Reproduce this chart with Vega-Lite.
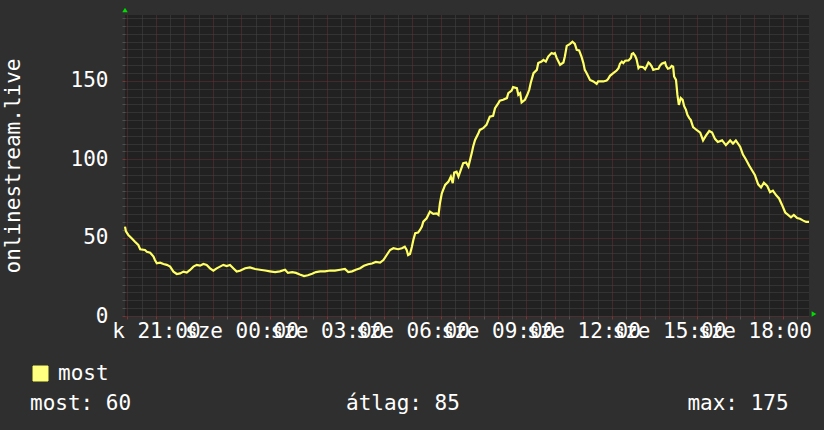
{
  "$schema": "https://vega.github.io/schema/vega-lite/v6.json",
  "width": 684,
  "height": 301,
  "autosize": {"type": "none"},
  "padding": {"left": 125, "top": 15, "right": 15, "bottom": 114},
  "background": "#2f2f2f",
  "config": {
    "view": {"fill": "#212121", "stroke": null},
    "font": "DejaVu Sans Mono"
  },
  "encoding": {
    "x": {
      "field": "t",
      "type": "temporal",
      "scale": {"type": "utc", "domain": [1704830100000, 1704916500000]},
      "axis": {
        "title": null,
        "values": [1704830400000, 1704832200000, 1704834000000, 1704835800000, 1704837600000, 1704839400000, 1704841200000, 1704843000000, 1704844800000, 1704846600000, 1704848400000, 1704850200000, 1704852000000, 1704853800000, 1704855600000, 1704857400000, 1704859200000, 1704861000000, 1704862800000, 1704864600000, 1704866400000, 1704868200000, 1704870000000, 1704871800000, 1704873600000, 1704875400000, 1704877200000, 1704879000000, 1704880800000, 1704882600000, 1704884400000, 1704886200000, 1704888000000, 1704889800000, 1704891600000, 1704893400000, 1704895200000, 1704897000000, 1704898800000, 1704900600000, 1704902400000, 1704904200000, 1704906000000, 1704907800000, 1704909600000, 1704911400000, 1704913200000, 1704915000000],
        "grid": true,
        "gridColor": {"condition": {"test": "utcminutes(datum.value) == 0", "value": "#663333"}, "value": "#474747"},
        "gridDash": [1, 1],
        "gridWidth": 1,
        "domain": false,
        "ticks": true,
        "tickSize": 3,
        "tickColor": {"condition": {"test": "utcminutes(datum.value) == 0", "value": "#7a3535"}, "value": "#505050"},
        "labelExpr": "utcminutes(datum.value) == 0 && utchours(datum.value) % 3 == 0 ? (utcdate(datum.value) == 9 ? 'k ' : 'sze ') + utcFormat(datum.value, '%H:%M') : ''",
        "labelOverlap": false,
        "labelBound": false,
        "labelFlush": false,
        "labelAngle": 0,
        "labelFont": "DejaVu Sans Mono",
        "labelFontSize": 21,
        "labelColor": "#ffffff",
        "labelPadding": 1
      }
    },
    "y": {
      "field": "v",
      "type": "quantitative",
      "scale": {"domain": [0, 192], "nice": false, "zero": true},
      "axis": {
        "title": "onlinestream.live",
        "values": [0, 5, 10, 15, 20, 25, 30, 35, 40, 45, 50, 55, 60, 65, 70, 75, 80, 85, 90, 95, 100, 105, 110, 115, 120, 125, 130, 135, 140, 145, 150, 155, 160, 165, 170, 175, 180, 185, 190],
        "grid": true,
        "gridColor": {"condition": {"test": "datum.value % 50 == 0", "value": "#663333"}, "value": "#474747"},
        "gridDash": [1, 1],
        "gridWidth": 1,
        "domain": false,
        "tickSize": 3,
        "tickColor": {"condition": {"test": "datum.value % 50 == 0", "value": "#7a3535"}, "value": "#505050"},
        "labelExpr": "datum.value % 50 == 0 ? datum.label : ''",
        "labelOverlap": false,
        "labelFont": "DejaVu Sans Mono",
        "labelFontSize": 21,
        "labelColor": "#ffffff",
        "labelPadding": 14,
        "titleFont": "DejaVu Sans Mono",
        "titleFontSize": 21,
        "titleFontWeight": "normal",
        "titleColor": "#ffffff",
        "titleAngle": -90,
        "titleX": -106,
        "titleY": 150.5,
        "titleAlign": "center",
        "titleBaseline": "alphabetic"
      }
    }
  },
  "layer": [
    {
      "data": {
        "values": [
          {"t": "2024-01-09T19:55:00Z", "v": 57},
          {"t": "2024-01-09T19:57:00Z", "v": 54},
          {"t": "2024-01-09T20:02:00Z", "v": 51.7},
          {"t": "2024-01-09T20:09:00Z", "v": 49.6},
          {"t": "2024-01-09T20:16:00Z", "v": 47.4},
          {"t": "2024-01-09T20:23:00Z", "v": 45.3},
          {"t": "2024-01-09T20:27:00Z", "v": 42.6},
          {"t": "2024-01-09T20:37:00Z", "v": 42.1},
          {"t": "2024-01-09T20:41:00Z", "v": 41},
          {"t": "2024-01-09T20:48:00Z", "v": 40.4},
          {"t": "2024-01-09T20:55:00Z", "v": 37.9},
          {"t": "2024-01-09T20:58:00Z", "v": 35.7},
          {"t": "2024-01-09T21:02:00Z", "v": 33.6},
          {"t": "2024-01-09T21:09:00Z", "v": 34},
          {"t": "2024-01-09T21:16:00Z", "v": 33.2},
          {"t": "2024-01-09T21:23:00Z", "v": 32.6},
          {"t": "2024-01-09T21:30:00Z", "v": 31.5},
          {"t": "2024-01-09T21:37:00Z", "v": 28.3},
          {"t": "2024-01-09T21:44:00Z", "v": 26.8},
          {"t": "2024-01-09T21:51:00Z", "v": 27.2},
          {"t": "2024-01-09T21:58:00Z", "v": 28.3},
          {"t": "2024-01-09T22:05:00Z", "v": 27.7},
          {"t": "2024-01-09T22:12:00Z", "v": 29.4},
          {"t": "2024-01-09T22:19:00Z", "v": 31.5},
          {"t": "2024-01-09T22:26:00Z", "v": 32.6},
          {"t": "2024-01-09T22:33:00Z", "v": 32.1},
          {"t": "2024-01-09T22:40:00Z", "v": 33.2},
          {"t": "2024-01-09T22:47:00Z", "v": 32.6},
          {"t": "2024-01-09T22:54:00Z", "v": 30.4},
          {"t": "2024-01-09T23:01:00Z", "v": 28.9},
          {"t": "2024-01-09T23:08:00Z", "v": 30.4},
          {"t": "2024-01-09T23:15:00Z", "v": 31.5},
          {"t": "2024-01-09T23:22:00Z", "v": 32.6},
          {"t": "2024-01-09T23:29:00Z", "v": 31.9},
          {"t": "2024-01-09T23:36:00Z", "v": 32.6},
          {"t": "2024-01-09T23:43:00Z", "v": 30.4},
          {"t": "2024-01-09T23:50:00Z", "v": 28.3},
          {"t": "2024-01-09T23:57:00Z", "v": 28.9},
          {"t": "2024-01-10T00:08:00Z", "v": 30.5},
          {"t": "2024-01-10T00:18:00Z", "v": 31},
          {"t": "2024-01-10T00:29:00Z", "v": 30},
          {"t": "2024-01-10T00:39:00Z", "v": 29.5},
          {"t": "2024-01-10T00:50:00Z", "v": 29},
          {"t": "2024-01-10T01:00:00Z", "v": 28.5},
          {"t": "2024-01-10T01:11:00Z", "v": 28},
          {"t": "2024-01-10T01:21:00Z", "v": 28.5},
          {"t": "2024-01-10T01:32:00Z", "v": 29.5},
          {"t": "2024-01-10T01:38:00Z", "v": 27.5},
          {"t": "2024-01-10T01:47:00Z", "v": 28},
          {"t": "2024-01-10T01:55:00Z", "v": 27.5},
          {"t": "2024-01-10T02:03:00Z", "v": 26.5},
          {"t": "2024-01-10T02:12:00Z", "v": 25.5},
          {"t": "2024-01-10T02:20:00Z", "v": 26},
          {"t": "2024-01-10T02:29:00Z", "v": 27},
          {"t": "2024-01-10T02:37:00Z", "v": 28},
          {"t": "2024-01-10T02:46:00Z", "v": 28.5},
          {"t": "2024-01-10T02:56:00Z", "v": 28.5},
          {"t": "2024-01-10T03:07:00Z", "v": 29},
          {"t": "2024-01-10T03:17:00Z", "v": 29},
          {"t": "2024-01-10T03:28:00Z", "v": 29.5},
          {"t": "2024-01-10T03:38:00Z", "v": 30},
          {"t": "2024-01-10T03:45:00Z", "v": 28},
          {"t": "2024-01-10T03:53:00Z", "v": 28.5},
          {"t": "2024-01-10T04:01:00Z", "v": 29.5},
          {"t": "2024-01-10T04:10:00Z", "v": 30.5},
          {"t": "2024-01-10T04:18:00Z", "v": 32},
          {"t": "2024-01-10T04:27:00Z", "v": 33},
          {"t": "2024-01-10T04:35:00Z", "v": 33.5},
          {"t": "2024-01-10T04:43:00Z", "v": 34.5},
          {"t": "2024-01-10T04:52:00Z", "v": 34},
          {"t": "2024-01-10T04:59:00Z", "v": 35.7},
          {"t": "2024-01-10T05:06:00Z", "v": 38.9},
          {"t": "2024-01-10T05:13:00Z", "v": 42.1},
          {"t": "2024-01-10T05:20:00Z", "v": 43.2},
          {"t": "2024-01-10T05:30:00Z", "v": 42.6},
          {"t": "2024-01-10T05:38:00Z", "v": 43.2},
          {"t": "2024-01-10T05:44:00Z", "v": 44.2},
          {"t": "2024-01-10T05:48:00Z", "v": 42.1},
          {"t": "2024-01-10T05:51:00Z", "v": 38.9},
          {"t": "2024-01-10T05:55:00Z", "v": 39.6},
          {"t": "2024-01-10T05:59:00Z", "v": 44.2},
          {"t": "2024-01-10T06:02:00Z", "v": 48.5},
          {"t": "2024-01-10T06:06:00Z", "v": 52.8},
          {"t": "2024-01-10T06:12:00Z", "v": 53.2},
          {"t": "2024-01-10T06:16:00Z", "v": 54.9},
          {"t": "2024-01-10T06:20:00Z", "v": 57},
          {"t": "2024-01-10T06:23:00Z", "v": 60.2},
          {"t": "2024-01-10T06:30:00Z", "v": 62.3},
          {"t": "2024-01-10T06:37:00Z", "v": 66.6},
          {"t": "2024-01-10T06:44:00Z", "v": 65.1},
          {"t": "2024-01-10T06:51:00Z", "v": 65.5},
          {"t": "2024-01-10T06:55:00Z", "v": 64.5},
          {"t": "2024-01-10T06:58:00Z", "v": 71.9},
          {"t": "2024-01-10T07:02:00Z", "v": 78.3},
          {"t": "2024-01-10T07:09:00Z", "v": 83.6},
          {"t": "2024-01-10T07:16:00Z", "v": 85.7},
          {"t": "2024-01-10T07:21:00Z", "v": 88.9},
          {"t": "2024-01-10T07:25:00Z", "v": 84.7},
          {"t": "2024-01-10T07:28:00Z", "v": 91.5},
          {"t": "2024-01-10T07:33:00Z", "v": 92.1},
          {"t": "2024-01-10T07:37:00Z", "v": 88.9},
          {"t": "2024-01-10T07:42:00Z", "v": 93.2},
          {"t": "2024-01-10T07:47:00Z", "v": 97.5},
          {"t": "2024-01-10T07:53:00Z", "v": 97.9},
          {"t": "2024-01-10T07:58:00Z", "v": 95.3},
          {"t": "2024-01-10T08:05:00Z", "v": 103.9},
          {"t": "2024-01-10T08:08:00Z", "v": 108.1},
          {"t": "2024-01-10T08:12:00Z", "v": 112.3},
          {"t": "2024-01-10T08:19:00Z", "v": 116.6},
          {"t": "2024-01-10T08:22:00Z", "v": 118.7},
          {"t": "2024-01-10T08:29:00Z", "v": 119.8},
          {"t": "2024-01-10T08:36:00Z", "v": 121.9},
          {"t": "2024-01-10T08:43:00Z", "v": 127.2},
          {"t": "2024-01-10T08:50:00Z", "v": 127.7},
          {"t": "2024-01-10T08:54:00Z", "v": 132.6},
          {"t": "2024-01-10T09:01:00Z", "v": 135.8},
          {"t": "2024-01-10T09:04:00Z", "v": 137.4},
          {"t": "2024-01-10T09:11:00Z", "v": 137.9},
          {"t": "2024-01-10T09:19:00Z", "v": 139},
          {"t": "2024-01-10T09:22:00Z", "v": 142.2},
          {"t": "2024-01-10T09:29:00Z", "v": 143.8},
          {"t": "2024-01-10T09:32:00Z", "v": 146},
          {"t": "2024-01-10T09:40:00Z", "v": 145.3},
          {"t": "2024-01-10T09:43:00Z", "v": 141.1},
          {"t": "2024-01-10T09:47:00Z", "v": 142.2},
          {"t": "2024-01-10T09:50:00Z", "v": 136.2},
          {"t": "2024-01-10T09:57:00Z", "v": 137.9},
          {"t": "2024-01-10T10:02:00Z", "v": 141.1},
          {"t": "2024-01-10T10:06:00Z", "v": 144.3},
          {"t": "2024-01-10T10:09:00Z", "v": 148.5},
          {"t": "2024-01-10T10:15:00Z", "v": 154.9},
          {"t": "2024-01-10T10:22:00Z", "v": 157},
          {"t": "2024-01-10T10:25:00Z", "v": 161.3},
          {"t": "2024-01-10T10:32:00Z", "v": 162.3},
          {"t": "2024-01-10T10:36:00Z", "v": 163.4},
          {"t": "2024-01-10T10:41:00Z", "v": 162.3},
          {"t": "2024-01-10T10:46:00Z", "v": 165.5},
          {"t": "2024-01-10T10:53:00Z", "v": 167.7},
          {"t": "2024-01-10T10:57:00Z", "v": 167.2},
          {"t": "2024-01-10T11:00:00Z", "v": 167.7},
          {"t": "2024-01-10T11:04:00Z", "v": 164.5},
          {"t": "2024-01-10T11:11:00Z", "v": 160.2},
          {"t": "2024-01-10T11:18:00Z", "v": 161.7},
          {"t": "2024-01-10T11:21:00Z", "v": 165.5},
          {"t": "2024-01-10T11:25:00Z", "v": 172.3},
          {"t": "2024-01-10T11:32:00Z", "v": 173.6},
          {"t": "2024-01-10T11:37:00Z", "v": 175},
          {"t": "2024-01-10T11:42:00Z", "v": 173.6},
          {"t": "2024-01-10T11:46:00Z", "v": 169.8},
          {"t": "2024-01-10T11:51:00Z", "v": 169.4},
          {"t": "2024-01-10T11:56:00Z", "v": 165.5},
          {"t": "2024-01-10T12:00:00Z", "v": 161.3},
          {"t": "2024-01-10T12:03:00Z", "v": 157},
          {"t": "2024-01-10T12:07:00Z", "v": 154.9},
          {"t": "2024-01-10T12:14:00Z", "v": 150.6},
          {"t": "2024-01-10T12:21:00Z", "v": 149.6},
          {"t": "2024-01-10T12:28:00Z", "v": 148.1},
          {"t": "2024-01-10T12:31:00Z", "v": 149.6},
          {"t": "2024-01-10T12:42:00Z", "v": 149.6},
          {"t": "2024-01-10T12:49:00Z", "v": 150.2},
          {"t": "2024-01-10T12:52:00Z", "v": 151.1},
          {"t": "2024-01-10T12:56:00Z", "v": 153.2},
          {"t": "2024-01-10T13:03:00Z", "v": 154.9},
          {"t": "2024-01-10T13:10:00Z", "v": 156.6},
          {"t": "2024-01-10T13:14:00Z", "v": 158.1},
          {"t": "2024-01-10T13:17:00Z", "v": 160.9},
          {"t": "2024-01-10T13:21:00Z", "v": 162.3},
          {"t": "2024-01-10T13:24:00Z", "v": 161.3},
          {"t": "2024-01-10T13:28:00Z", "v": 162.8},
          {"t": "2024-01-10T13:35:00Z", "v": 163},
          {"t": "2024-01-10T13:40:00Z", "v": 164.6},
          {"t": "2024-01-10T13:42:00Z", "v": 167.2},
          {"t": "2024-01-10T13:45:00Z", "v": 167.7},
          {"t": "2024-01-10T13:49:00Z", "v": 166},
          {"t": "2024-01-10T13:52:00Z", "v": 163.8},
          {"t": "2024-01-10T13:56:00Z", "v": 158.1},
          {"t": "2024-01-10T13:59:00Z", "v": 159.1},
          {"t": "2024-01-10T14:06:00Z", "v": 158.7},
          {"t": "2024-01-10T14:10:00Z", "v": 157.4},
          {"t": "2024-01-10T14:13:00Z", "v": 159.1},
          {"t": "2024-01-10T14:17:00Z", "v": 161.7},
          {"t": "2024-01-10T14:20:00Z", "v": 160.9},
          {"t": "2024-01-10T14:24:00Z", "v": 159.1},
          {"t": "2024-01-10T14:27:00Z", "v": 157},
          {"t": "2024-01-10T14:31:00Z", "v": 157.4},
          {"t": "2024-01-10T14:38:00Z", "v": 157.7},
          {"t": "2024-01-10T14:41:00Z", "v": 159.6},
          {"t": "2024-01-10T14:45:00Z", "v": 160.9},
          {"t": "2024-01-10T14:48:00Z", "v": 161.3},
          {"t": "2024-01-10T14:52:00Z", "v": 161.7},
          {"t": "2024-01-10T14:54:00Z", "v": 159.6},
          {"t": "2024-01-10T14:58:00Z", "v": 157.7},
          {"t": "2024-01-10T15:02:00Z", "v": 158.1},
          {"t": "2024-01-10T15:06:00Z", "v": 159.6},
          {"t": "2024-01-10T15:09:00Z", "v": 159.1},
          {"t": "2024-01-10T15:11:00Z", "v": 152.8},
          {"t": "2024-01-10T15:15:00Z", "v": 150.6},
          {"t": "2024-01-10T15:18:00Z", "v": 141},
          {"t": "2024-01-10T15:21:00Z", "v": 134.7},
          {"t": "2024-01-10T15:25:00Z", "v": 139},
          {"t": "2024-01-10T15:29:00Z", "v": 137.9},
          {"t": "2024-01-10T15:32:00Z", "v": 134},
          {"t": "2024-01-10T15:36:00Z", "v": 131.5},
          {"t": "2024-01-10T15:39:00Z", "v": 128.3},
          {"t": "2024-01-10T15:43:00Z", "v": 126.2},
          {"t": "2024-01-10T15:46:00Z", "v": 125.1},
          {"t": "2024-01-10T15:51:00Z", "v": 120.5},
          {"t": "2024-01-10T15:59:00Z", "v": 118.5},
          {"t": "2024-01-10T16:06:00Z", "v": 117},
          {"t": "2024-01-10T16:12:00Z", "v": 112},
          {"t": "2024-01-10T16:18:00Z", "v": 115},
          {"t": "2024-01-10T16:25:00Z", "v": 118},
          {"t": "2024-01-10T16:31:00Z", "v": 117},
          {"t": "2024-01-10T16:37:00Z", "v": 113},
          {"t": "2024-01-10T16:43:00Z", "v": 111},
          {"t": "2024-01-10T16:52:00Z", "v": 112},
          {"t": "2024-01-10T17:00:00Z", "v": 109},
          {"t": "2024-01-10T17:09:00Z", "v": 112},
          {"t": "2024-01-10T17:15:00Z", "v": 110},
          {"t": "2024-01-10T17:21:00Z", "v": 112},
          {"t": "2024-01-10T17:30:00Z", "v": 108},
          {"t": "2024-01-10T17:36:00Z", "v": 103},
          {"t": "2024-01-10T17:42:00Z", "v": 100},
          {"t": "2024-01-10T17:49:00Z", "v": 96},
          {"t": "2024-01-10T17:55:00Z", "v": 93},
          {"t": "2024-01-10T18:01:00Z", "v": 90},
          {"t": "2024-01-10T18:08:00Z", "v": 84},
          {"t": "2024-01-10T18:14:00Z", "v": 82},
          {"t": "2024-01-10T18:20:00Z", "v": 85},
          {"t": "2024-01-10T18:27:00Z", "v": 83},
          {"t": "2024-01-10T18:33:00Z", "v": 79},
          {"t": "2024-01-10T18:39:00Z", "v": 80},
          {"t": "2024-01-10T18:46:00Z", "v": 77},
          {"t": "2024-01-10T18:52:00Z", "v": 75},
          {"t": "2024-01-10T18:58:00Z", "v": 71},
          {"t": "2024-01-10T19:05:00Z", "v": 66},
          {"t": "2024-01-10T19:11:00Z", "v": 64.5},
          {"t": "2024-01-10T19:17:00Z", "v": 63},
          {"t": "2024-01-10T19:23:00Z", "v": 64.5},
          {"t": "2024-01-10T19:30:00Z", "v": 62.5},
          {"t": "2024-01-10T19:36:00Z", "v": 62},
          {"t": "2024-01-10T19:42:00Z", "v": 61},
          {"t": "2024-01-10T19:49:00Z", "v": 60},
          {"t": "2024-01-10T19:55:00Z", "v": 60}
        ]
      },
      "mark": {"type": "line", "strokeWidth": 2.2, "interpolate": "linear"},
      "encoding": {
        "color": {
          "datum": "most",
          "scale": {"range": ["#ffff66"]},
          "legend": {
            "orient": "none",
            "legendX": -95,
            "legendY": 348,
            "padding": 0,
            "title": "most: 60\u00a0\u00a0\u00a0\u00a0\u00a0\u00a0\u00a0\u00a0\u00a0\u00a0\u00a0\u00a0\u00a0\u00a0\u00a0\u00a0\u00a0átlag: 85\u00a0\u00a0\u00a0\u00a0\u00a0\u00a0\u00a0\u00a0\u00a0\u00a0\u00a0\u00a0\u00a0\u00a0\u00a0\u00a0\u00a0\u00a0max: 175",
            "titleOrient": "bottom",
            "titleAnchor": "start",
            "titleFont": "DejaVu Sans Mono",
            "titleFontSize": 21,
            "titleFontWeight": "normal",
            "titleColor": "#ffffff",
            "titleLimit": 1000,
            "titlePadding": 9,
            "labelFont": "DejaVu Sans Mono",
            "labelFontSize": 21,
            "labelColor": "#ffffff",
            "labelOffset": 7,
            "symbolType": "square",
            "symbolSize": 225,
            "encode": {
              "symbols": {
                "update": {
                  "fill": {"value": "#ffff80"},
                  "stroke": {"value": "#1a1a1a"},
                  "strokeWidth": {"value": 1},
                  "shape": {"value": "square"},
                  "opacity": {"value": 1}
                }
              }
            }
          }
        }
      }
    },
    {
      "data": {"values": [{"t": "2024-01-09T19:55:00Z", "v": 192}]},
      "mark": {"type": "point", "shape": "triangle-up", "filled": true, "size": 30, "color": "#00dd00", "opacity": 1, "yOffset": -5}
    },
    {
      "data": {"values": [{"t": "2024-01-10T19:55:00Z", "v": 0}]},
      "mark": {"type": "point", "shape": "triangle-right", "filled": true, "size": 30, "color": "#00dd00", "opacity": 1, "xOffset": 5, "yOffset": -2}
    }
  ]
}
